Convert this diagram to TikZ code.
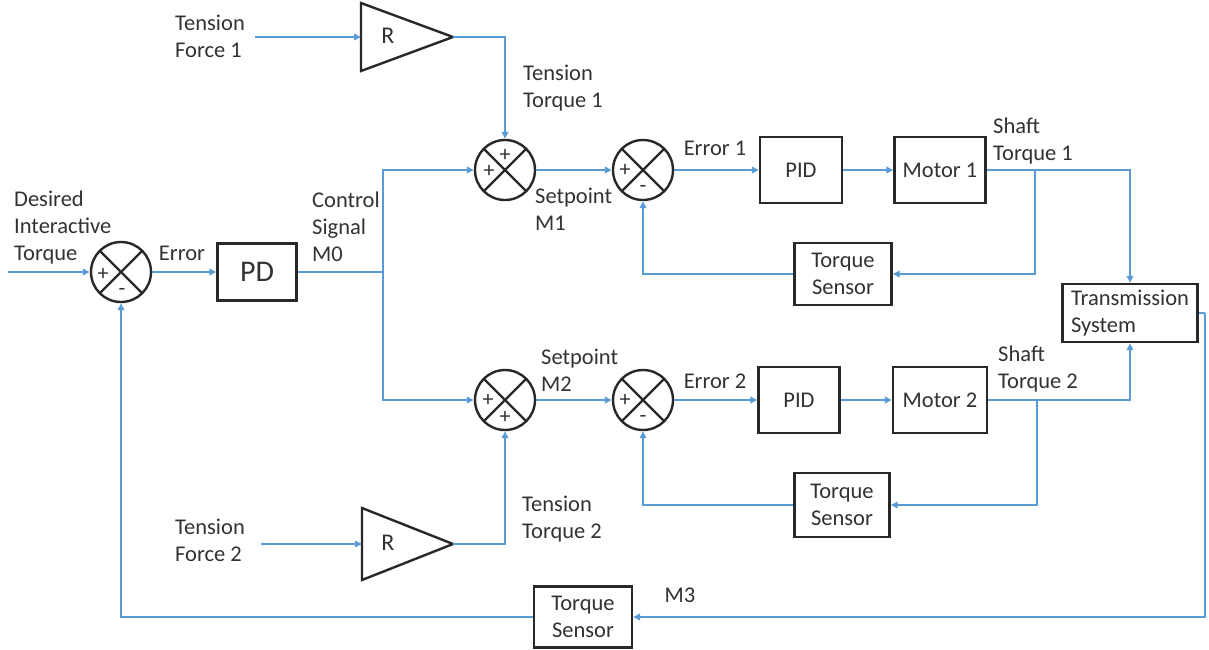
\documentclass[tikz,border=0pt]{standalone}
\usepackage{fontspec}
\setmainfont{Carlito}
\usetikzlibrary{arrows.meta,calc}
\definecolor{wirecol}{RGB}{91,155,213}
\definecolor{ink}{RGB}{40,40,40}
\definecolor{txt}{RGB}{50,50,50}

\begin{document}
\begin{tikzpicture}[x=1pt,y=-1pt,
  wire/.style={draw=wirecol, line width=2.4pt},
  sig/.style={wire, -{Triangle[length=7pt,width=6.5pt]}},
  block/.style={draw=ink, line width=2.4pt, fill=white, text=txt,
    align=center, inner sep=0pt, font=\fontsize{22.5}{27}\selectfont},
  summer/.style={circle, draw=ink, line width=2.4pt, minimum size=60pt,
    inner sep=0pt,
    path picture={\draw[ink, line width=2.4pt]
      (path picture bounding box.north west) -- (path picture bounding box.south east)
      (path picture bounding box.north east) -- (path picture bounding box.south west);}},
  sgn/.style={text=txt, inner sep=0pt, font=\fontsize{22}{22}\selectfont},
  lbl/.style={text=txt, align=left, anchor=west, inner sep=0pt,
    font=\fontsize{22.5}{27}\selectfont}
]
\useasboundingbox (0,0) rectangle (1209,649);

% summing junctions
\node[summer] (s0) at (121,272) {};
\node[summer] (s1) at (505,170) {};
\node[summer] (s2) at (643,170) {};
\node[summer] (s3) at (505,400) {};
\node[summer] (s4) at (643,400) {};

% signs
\node[sgn] (s0a) at ($(s0)+(-18,2)$) {+};
\node[sgn] (s0b) at ($(s0)+(1,20)$) {-};
\node[sgn] (s1a) at ($(s1)+(-16,1)$) {+};
\node[sgn] (s1b) at ($(s1)+(0,-15)$) {+};
\node[sgn] (s2a) at ($(s2)+(-18,0)$) {+};
\node[sgn] (s2b) at ($(s2)+(0,19)$) {-};
\node[sgn] (s3a) at ($(s3)+(-17,0)$) {+};
\node[sgn] (s3b) at ($(s3)+(0,17)$) {+};
\node[sgn] (s4a) at ($(s4)+(-18,0)$) {+};
\node[sgn] (s4b) at ($(s4)+(0,19)$) {-};

% blocks
\node[block, minimum width=79pt, minimum height=57pt, font=\fontsize{30}{34}\selectfont] (pd) at (257,272) {PD};
\node[block, minimum width=82pt, minimum height=66pt] (pid1) at (801,170) {PID};
\node[block, minimum width=91pt, minimum height=66pt] (mot1) at (940,170) {Motor 1};
\node[block, minimum width=97pt, minimum height=62pt] (sen1) at (843,274) {Torque\\Sensor};
\node[block, minimum width=81pt, minimum height=66pt] (pid2) at (799,400) {PID};
\node[block, minimum width=94pt, minimum height=66pt] (mot2) at (940,400) {Motor 2};
\node[block, minimum width=95pt, minimum height=64pt] (sen2) at (842,505) {Torque\\Sensor};
\node[block, minimum width=98pt, minimum height=61pt] (sen3) at (583,617) {Torque\\Sensor};
\node[block, minimum width=135pt, minimum height=58pt, align=left] (trans) at (1130,313) {Transmission\\System};

% gain triangles
\draw[ink, line width=2.4pt, line join=miter] (361,3) -- (453,37) -- (361,71) -- cycle;
\node[sgn, font=\fontsize{24}{24}\selectfont] (r1) at (388,36) {R};
\coordinate (r1in) at (361,37);
\coordinate (r1out) at (453,37);
\draw[ink, line width=2.4pt, line join=miter] (362,508) -- (453,544) -- (362,580) -- cycle;
\node[sgn, font=\fontsize{24}{24}\selectfont] (r2) at (388,543) {R};
\coordinate (r2in) at (362,544);
\coordinate (r2out) at (453,544);

% signal sources and branch points
\coordinate (din) at (8,272);
\coordinate (f1) at (255,37);
\coordinate (f2) at (261,544);
\coordinate (j0) at (383,272);
\coordinate (j1) at (1035,170);
\coordinate (j2) at (1037,400);
\coordinate (tr) at (1205,313);

% connectors
\draw[sig] (din) -- (s0.west);
\draw[sig] (s0.east) -- (pd.west);
\draw[wire] (pd.east) -- (j0);
\draw[sig] (j0) |- (s1.west);
\draw[sig] (j0) |- (s3.west);
\draw[sig] (f1) -- (r1in);
\draw[sig] (r1out) -| (s1.north);
\draw[sig] (f2) -- (r2in);
\draw[sig] (r2out) -| (s3.south);
\draw[sig] (s1.east) -- (s2.west);
\draw[sig] (s2.east) -- (pid1.west);
\draw[sig] (pid1.east) -- (mot1.west);
\draw[sig] (mot1.east) -| (trans.north);
\draw[sig] (j1) |- (sen1.east);
\draw[sig] (sen1.west) -| (s2.south);
\draw[sig] (s3.east) -- (s4.west);
\draw[sig] (s4.east) -- (pid2.west);
\draw[sig] (pid2.east) -- (mot2.west);
\draw[sig] (mot2.east) -| (trans.south);
\draw[sig] (j2) |- (sen2.east);
\draw[sig] (sen2.west) -| (s4.south);
\draw[wire] (trans.east) -- (tr);
\draw[sig] (tr) |- (sen3.east);
\draw[sig] (sen3.west) -| (s0.south);

% labels
\node[lbl] (tdes) at (14,227) {Desired\\Interactive\\Torque};
\node[lbl, anchor=center] (terr) at (182,253) {Error};
\node[lbl] (tctl) at (312,227) {Control\\Signal\\M0};
\node[lbl] (tf1) at (175,36) {Tension\\Force 1};
\node[lbl] (ttq1) at (523,88) {Tension\\Torque 1};
\node[lbl] (tsp1) at (535,209) {Setpoint\\M1};
\node[lbl, anchor=center] (te1) at (715,148) {Error 1};
\node[lbl] (tsh1) at (993,141) {Shaft\\Torque 1};
\node[lbl] (tsp2) at (541,370) {Setpoint\\M2};
\node[lbl, anchor=center] (te2) at (715,381) {Error 2};
\node[lbl] (tsh2) at (998,369) {Shaft\\Torque 2};
\node[lbl] (ttq2) at (522,519) {Tension\\Torque 2};
\node[lbl] (tf2) at (175,540) {Tension\\Force 2};
\node[lbl, anchor=center] (tm3) at (680,595) {M3};
\end{tikzpicture}
\end{document}
